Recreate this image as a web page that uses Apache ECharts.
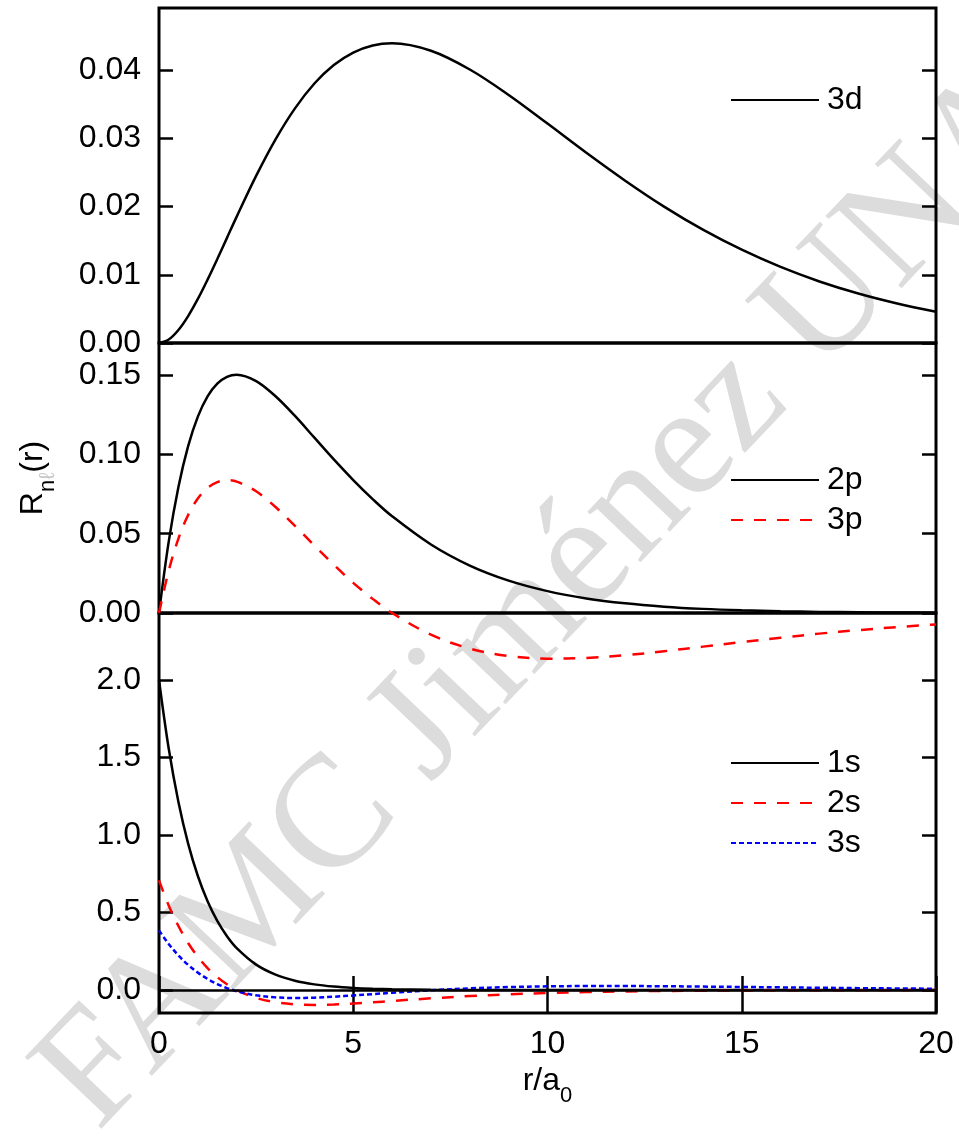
<!DOCTYPE html>
<html>
<head>
<meta charset="utf-8">
<script src="https://cdn.jsdelivr.net/npm/echarts@6/dist/echarts.min.js"></script>
<style>
html, body { margin: 0; padding: 0; background: #fff; }
#chart { width: 959px; height: 1138px; }
</style>
</head>
<body>
<div id="chart"></div>
<script>
// r / a0 sample points
var rVals = [0, 0.25, 0.5, 0.75, 1, 1.25, 1.5, 1.75, 2, 2.5, 3, 3.5, 4, 4.5, 5, 5.5, 6,
    7, 8, 9, 10, 11, 12, 13, 14, 15, 16, 17, 18, 19, 20];

// top panel
var r3d = [0, 0.00052, 0.00191, 0.00395, 0.00646, 0.00929, 0.01230, 0.01541, 0.01852, 0.02449,
    0.02985, 0.03439, 0.03803, 0.04074, 0.04257, 0.04361, 0.04393,
    0.04284, 0.04009, 0.03636, 0.03216, 0.02788, 0.02379, 0.01999, 0.01661, 0.01367,
    0.01115, 0.00902, 0.00725, 0.00579, 0.00458];

// middle panel
var r2p = [0, 0.0450, 0.0795, 0.1052, 0.1238, 0.1366, 0.1446, 0.1489, 0.1502, 0.1462,
    0.1366, 0.1242, 0.1105, 0.0968, 0.0838, 0.0718, 0.0610,
    0.0432, 0.0299, 0.0204, 0.0138, 0.0092, 0.0061, 0.0040, 0.0026, 0.0017,
    0.0011, 0.0007, 0.0005, 0.0003, 0.0002];
var r3p = [0, 0.0267, 0.0469, 0.0618, 0.0722, 0.0789, 0.0825, 0.0837, 0.0828, 0.0767,
    0.0668, 0.0549, 0.0425, 0.0304, 0.0190, 0.0089, 0,
    -0.0137, -0.0224, -0.0271, -0.0288, -0.0283, -0.0266, -0.0241, -0.0212, -0.0183,
    -0.0156, -0.0130, -0.0108, -0.0089, -0.0072];

// bottom panel
var r1s = [2, 1.5576, 1.2131, 0.9447, 0.7358, 0.5730, 0.4463, 0.3475, 0.2707, 0.1642,
    0.0996, 0.0604, 0.0366, 0.0222, 0.0135, 0.0082, 0.0050,
    0.0018, 0.0007, 0.0002, 0.0001, 0, 0, 0, 0, 0, 0, 0, 0, 0, 0];
var r2s = [0.7071, 0.5460, 0.4130, 0.3037, 0.2144, 0.1419, 0.0835, 0.0369, 0, -0.0507,
    -0.0789, -0.0922, -0.0957, -0.0932, -0.0871, -0.0791, -0.0704,
    -0.0534, -0.0389, -0.0275, -0.0191, -0.0130, -0.0088, -0.0058, -0.0039, -0.0025,
    -0.0017, -0.0011, -0.0007, -0.0005, -0.0003];
var r3s = [0.3849, 0.2967, 0.2232, 0.1624, 0.1124, 0.0717, 0.0389, 0.0129, -0.0073, -0.0341,
    -0.0472, -0.0511, -0.0489, -0.0429, -0.0350, -0.0262, -0.0174,
    -0.0014, 0.0109, 0.0192, 0.0239, 0.0259, 0.0259, 0.0245, 0.0224, 0.0199,
    0.0173, 0.0148, 0.0124, 0.0103, 0.0085];

// tick labels
var xTicks = [0, 5, 10, 15, 20];
var yTicksTop = [0, 0.01, 0.02, 0.03, 0.04];
var yTicksMid = [0, 0.05, 0.10, 0.15];
var yTicksBot = [0, 0.5, 1.0, 1.5, 2.0];

function pairs(ys) {
    return rVals.map(function (r, i) { return [r, ys[i]]; });
}

var font = 'Liberation Sans, Arial, sans-serif';
var fs = 32;

var myChart = echarts.init(document.getElementById('chart'), null, { renderer: 'canvas' });

function xAxisFor(gi, withLabels) {
    return {
        type: 'value',
        gridIndex: gi,
        min: 0,
        max: 20,
        axisLine: { show: false, onZero: false },
        splitLine: { show: false },
        axisTick: {
            show: withLabels,
            inside: true,
            length: 37,
            customValues: xTicks,
            lineStyle: { color: '#000', width: 2.5 }
        },
        axisLabel: {
            show: withLabels,
            customValues: xTicks,
            margin: 15,
            color: '#000',
            fontFamily: font,
            fontSize: fs
        },
        name: withLabels ? '{a|r/a}{b|0}' : '',
        nameLocation: 'middle',
        nameGap: 52,
        nameTextStyle: {
            rich: {
                a: { fontFamily: font, fontSize: fs, color: '#000', verticalAlign: 'top', lineHeight: 34 },
                b: { fontFamily: font, fontSize: 22, color: '#000', verticalAlign: 'top', padding: [20, 0, 0, 0] }
            }
        }
    };
}

function yAxisFor(gi, min, max, ticks, digits, right) {
    return {
        type: 'value',
        gridIndex: gi,
        position: right ? 'right' : 'left',
        min: min,
        max: max,
        axisLine: { show: false, onZero: false },
        splitLine: { show: false },
        axisTick: {
            show: true,
            inside: true,
            length: 14,
            customValues: ticks,
            lineStyle: { color: '#000', width: 2.5 }
        },
        axisLabel: {
            show: !right,
            customValues: ticks,
            margin: 18,
            color: '#000',
            fontFamily: font,
            fontSize: fs,
            formatter: function (v) { return Number(v).toFixed(digits); }
        }
    };
}

function lineSeries(name, xi, yi, ys, color, dash) {
    return {
        name: name,
        type: 'line',
        xAxisIndex: xi,
        yAxisIndex: yi,
        data: pairs(ys),
        showSymbol: false,
        symbol: 'none',
        smooth: 0.35,
        clip: false,
        lineStyle: { color: color, width: 2.5, type: dash || 'solid' },
        itemStyle: { color: color },
        z: 3
    };
}

function legendAt(names, top) {
    return {
        data: names,
        orient: 'vertical',
        left: 730,
        top: top,
        padding: 0,
        itemWidth: 88,
        itemHeight: 14,
        itemGap: 8,
        selectedMode: false,
        itemStyle: { opacity: 0 },
        textStyle: { fontFamily: font, fontSize: fs, color: '#000', padding: [0, 0, 0, 3] }
    };
}

var gridBase = { left: 159, right: 23, show: true, borderColor: '#000', borderWidth: 3, backgroundColor: 'transparent' };

var option = {
    animation: false,
    backgroundColor: '#fff',
    grid: [
        Object.assign({ top: 8, height: 335 }, gridBase),
        Object.assign({ top: 343, height: 270 }, gridBase),
        Object.assign({ top: 613, height: 400 }, gridBase)
    ],
    xAxis: [xAxisFor(0, false), xAxisFor(1, false), xAxisFor(2, true)],
    yAxis: [
        yAxisFor(0, 0, 0.0491, yTicksTop, 2, false),
        yAxisFor(0, 0, 0.0491, yTicksTop, 2, true),
        Object.assign(yAxisFor(1, 0, 0.1702, yTicksMid, 2, false), {
            name: '{a|R}{b|n}{c|\u2113}{a|(r)}',
            nameLocation: 'middle',
            nameRotate: 90,
            nameGap: 100,
            nameTextStyle: {
                rich: {
                    a: { fontFamily: font, fontSize: fs, color: '#000', verticalAlign: 'top', lineHeight: 34 },
                    b: { fontFamily: font, fontSize: 22, color: '#000', verticalAlign: 'top', padding: [20, 0, 0, 0] },
                    c: { fontFamily: font, fontSize: 22, color: '#c8c8c8', verticalAlign: 'top', padding: [20, 0, 0, 0] }
                }
            }
        }),
        yAxisFor(1, 0, 0.1702, yTicksMid, 2, true),
        yAxisFor(2, -0.148, 2.432, yTicksBot, 1, false),
        yAxisFor(2, -0.148, 2.432, yTicksBot, 1, true)
    ],
    legend: [
        legendAt(['3d'], 84),
        legendAt(['2p', '3p'], 464),
        legendAt(['1s', '2s', '3s'], 747)
    ],
    // watermark
    graphic: [{
        type: 'text',
        x: 125,
        y: 1159,
        rotation: 0.81,
        z: -1,
        silent: true,
        style: {
            text: 'FAMC Jiménez UNAM',
            font: '160px "Liberation Serif", "Times New Roman", serif',
            fill: '#dcdcdc',
            verticalAlign: 'bottom'
        }
    }],
    series: [
        lineSeries('3d', 0, 0, r3d, '#000'),
        lineSeries('2p', 1, 2, r2p, '#000'),
        lineSeries('3p', 1, 2, r3p, '#ff0000', [12, 11]),
        Object.assign(lineSeries('1s', 2, 4, r1s, '#000'), {
            markLine: {
                silent: true,
                symbol: 'none',
                label: { show: false },
                lineStyle: { color: '#000', width: 2.5, type: 'solid' },
                data: [{ yAxis: 0 }]
            }
        }),
        lineSeries('2s', 2, 4, r2s, '#ff0000', [12, 11]),
        lineSeries('3s', 2, 4, r3s, '#0000ff', [5, 3])
    ]
};

myChart.setOption(option);
window.addEventListener('resize', function () { myChart.resize(); });
</script>
</body>
</html>
